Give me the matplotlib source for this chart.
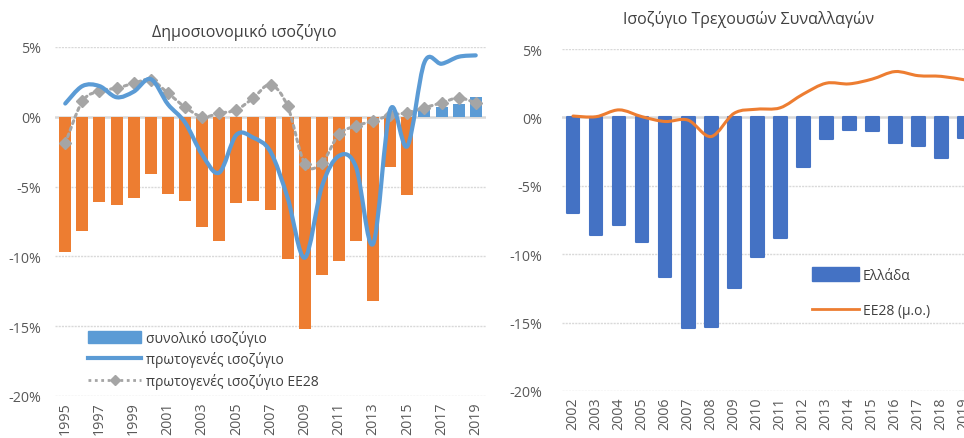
import numpy as np
import matplotlib
matplotlib.use("Agg")
import matplotlib.pyplot as plt
from matplotlib.path import Path
from matplotlib.patches import PathPatch, Patch
from matplotlib.lines import Line2D

plt.rcParams['font.family'] = ['Open Sans', 'DejaVu Sans']

# ---------------- data ----------------
years_fiscal = list(range(1995, 2020))
total_balance = [-9.7, -8.2, -6.1, -6.3, -5.8, -4.1, -5.5, -6.0, -7.9, -8.9,
                 -6.2, -6.0, -6.7, -10.2, -15.2, -11.3, -10.3, -8.9, -13.2, -3.6,
                 -5.6, 0.5, 0.7, 0.9, 1.4]
primary_balance = [0.95, 2.2, 2.2, 1.4, 1.8, 2.7, 0.9, -0.4, -2.7, -4.0,
                   -1.3, -1.5, -2.5, -5.8, -10.1, -5.0, -2.8, -3.6, -9.1, 0.5,
                   -2.1, 3.9, 3.8, 4.3, 4.4]
primary_eu28 = [-1.9, 1.1, 1.85, 2.05, 2.4, 2.65, 1.7, 0.7, 0.0, 0.25,
                0.5, 1.35, 2.3, 0.75, -3.35, -3.3, -1.25, -0.65, -0.3, 0.1,
                0.3, 0.65, 1.0, 1.35, 1.0]

years_ca = list(range(2002, 2020))
ca_greece = [-7.0, -8.6, -7.85, -9.1, -11.7, -15.4, -15.3, -12.5, -10.2, -8.8,
             -3.65, -1.6, -0.9, -1.0, -1.9, -2.1, -3.0, -1.5]
ca_eu28 = [0.1, 0.05, 0.55, 0.05, -0.3, -0.2, -1.4, 0.3, 0.6, 0.7,
           1.7, 2.5, 2.45, 2.8, 3.35, 3.05, 3.0, 2.75]

title_left = "Δημοσιονομικό ισοζύγιο"
title_right = "Ισοζύγιο Τρεχουσών Συναλλαγών"
leg_left = ["συνολικό ισοζύγιο", "πρωτογενές ισοζύγιο", "πρωτογενές ισοζύγιο ΕΕ28"]
leg_right = ["Ελλάδα", "ΕΕ28 (μ.ο.)"]
yticks = [5, 0, -5, -10, -15, -20]

ORANGE = "#ED7D31"
LBLUE = "#5B9BD5"
DBLUE = "#4472C4"
GREY = "#A5A5A5"
GRID = "#D9D9D9"
TXT = "#595959"


def smooth_path(x, y):
    pts = np.column_stack([x, y]).astype(float)
    n = len(pts)
    verts = [pts[0]]
    codes = [Path.MOVETO]
    for i in range(n - 1):
        p0 = pts[i - 1] if i > 0 else pts[i]
        p1 = pts[i]
        p2 = pts[i + 1]
        p3 = pts[i + 2] if i + 2 < n else pts[i + 1]
        c1 = p1 + (p2 - p0) / 6.0
        c2 = p2 - (p3 - p1) / 6.0
        verts += [c1, c2, p2]
        codes += [Path.CURVE4] * 3
    return Path(verts, codes)


def style_axes(ax, pad):
    ax.set_ylim(-20, 5)
    ax.set_yticks(yticks)
    ax.set_yticklabels([f"{v}%" for v in yticks])
    for s in ax.spines.values():
        s.set_visible(False)
    ax.tick_params(axis='both', length=0, colors=TXT, labelsize=10.3)
    ax.tick_params(axis='y', pad=pad)
    ax.tick_params(axis='x', pad=4)
    for v in yticks:
        if v != 0:
            ax.axhline(v, color=GRID, lw=1.0, ls=(0, (1.5, 0.8)), zorder=0)
    ax.axhline(0, color=GRID, lw=1.8, zorder=1)


fig = plt.figure(figsize=(9.64, 4.39), dpi=100)

# ---------------- left chart ----------------
axL = fig.add_axes([55 / 964, 1 - 397 / 439, 431 / 964, 349 / 439])
xL = np.arange(len(years_fiscal))
colsL = [ORANGE if v < 0 else LBLUE for v in total_balance]
axL.bar(xL, total_balance, width=0.7, color=colsL, zorder=2)
axL.add_patch(PathPatch(smooth_path(xL, primary_eu28), fill=False, ec=GREY,
                        lw=2.2, ls=(0, (1, 1.3)), zorder=3, capstyle='round'))
axL.plot(xL, primary_eu28, ls='none', marker='D', ms=6, color=GREY, zorder=4)
axL.add_patch(PathPatch(smooth_path(xL, primary_balance), fill=False, ec=LBLUE,
                        lw=3.0, zorder=5, capstyle='round', joinstyle='round'))
axL.set_xlim(-0.6, 24.6)
axL.set_xticks(xL[::2])
axL.set_xticklabels([str(y) for y in years_fiscal[::2]], rotation=90, va='top')
style_axes(axL, pad=10)
axL.set_title(title_left, fontsize=11.5, color="#404040", pad=8, x=0.44)

hL = [Patch(color=LBLUE),
      Line2D([], [], color=LBLUE, lw=3),
      Line2D([], [], color=GREY, lw=2, ls=(0, (1, 1.3)), marker='D', ms=5, markevery=[1])]
legL = axL.legend(hL, leg_left, loc='lower left', bbox_to_anchor=(0.064, 0.004),
                  frameon=False, fontsize=10, handlelength=3.8, handleheight=0.9,
                  labelspacing=0.4, handletextpad=0.4, borderaxespad=0)
for t in legL.get_texts():
    t.set_color("#404040")

# ---------------- right chart ----------------
axR = fig.add_axes([561.5 / 964, 1 - 392 / 439, 416.5 / 964, 342 / 439])
xR = np.arange(len(years_ca))
axR.bar(xR, ca_greece, width=0.56, color=DBLUE, ec=DBLUE, lw=1.5,
        joinstyle='round', zorder=2)
axR.add_patch(PathPatch(smooth_path(xR, ca_eu28), fill=False, ec=ORANGE,
                        lw=2.2, zorder=3, capstyle='round'))
axR.set_xlim(-0.5, 17.6)
axR.set_xticks(xR)
axR.set_xticklabels([str(y) for y in years_ca], rotation=90, va='top')
style_axes(axR, pad=14)
axR.set_title(title_right, fontsize=11.5, color="#404040", pad=19, x=0.448)

hR = [Patch(color=DBLUE), Line2D([], [], color=ORANGE, lw=2)]
legR = axR.legend(hR, leg_right, loc='upper left', bbox_to_anchor=(0.588, 0.378),
                  frameon=False, fontsize=10, handlelength=3.4, handleheight=1.1,
                  labelspacing=1.45, handletextpad=0.25, borderaxespad=0)
for t in legR.get_texts():
    t.set_color("#404040")

fig.savefig("out.png", dpi=100)
